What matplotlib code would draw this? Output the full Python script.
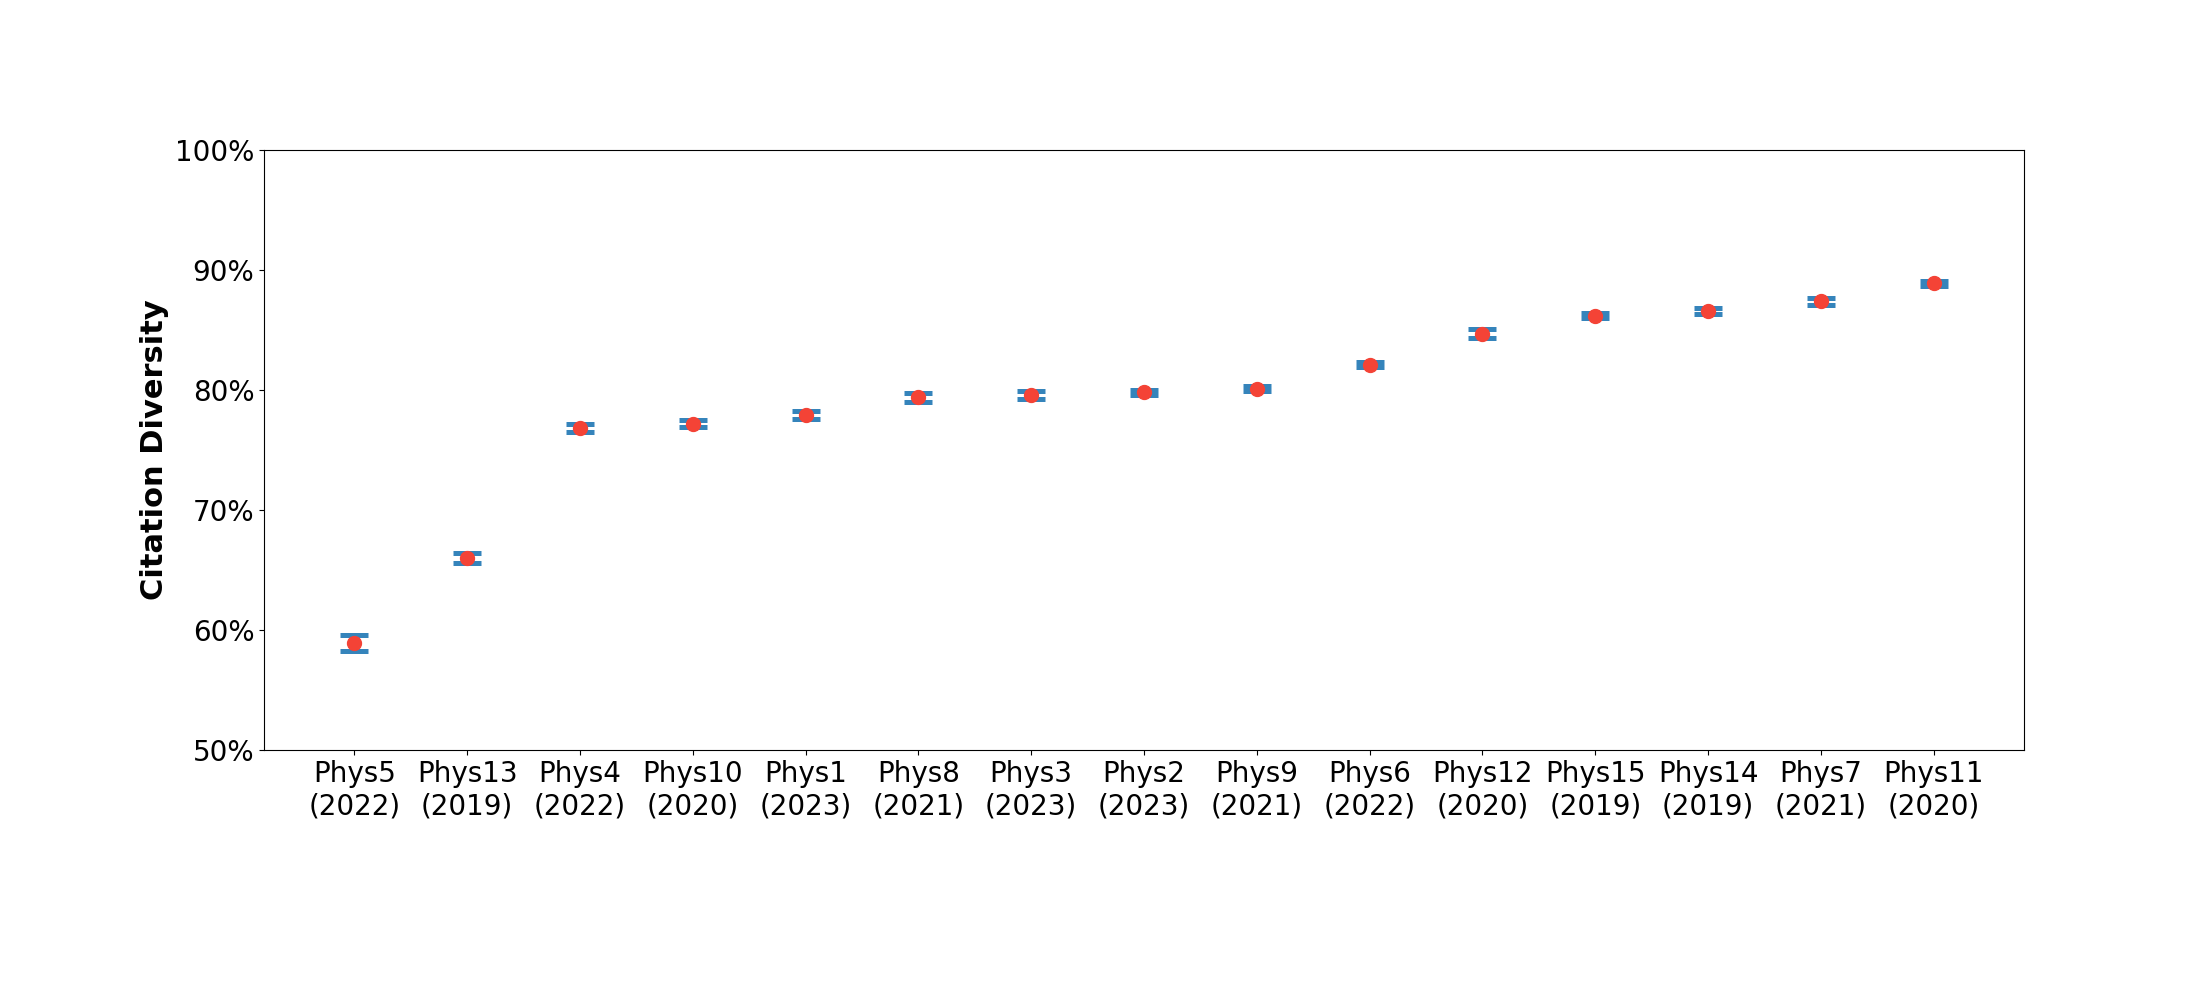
#!/usr/bin/env python3
import matplotlib
matplotlib.use("Agg")
import matplotlib.pyplot as plt
from matplotlib.ticker import PercentFormatter

# Citation diversity per author
labels = ["Phys5\n(2022)", "Phys13\n(2019)", "Phys4\n(2022)", "Phys10\n(2020)",
          "Phys1\n(2023)", "Phys8\n(2021)", "Phys3\n(2023)", "Phys2\n(2023)",
          "Phys9\n(2021)", "Phys6\n(2022)", "Phys12\n(2020)", "Phys15\n(2019)",
          "Phys14\n(2019)", "Phys7\n(2021)", "Phys11\n(2020)"]
diversity = [58.9, 66.0, 76.8, 77.2, 77.9, 79.4, 79.6, 79.8, 80.1,
             82.1, 84.7, 86.2, 86.6, 87.4, 88.9]
errors = [0.66, 0.44, 0.33, 0.30, 0.33, 0.39, 0.35, 0.20, 0.20,
          0.20, 0.35, 0.24, 0.24, 0.29, 0.20]


def main():
    fig, ax = plt.subplots(figsize=(22, 10), dpi=100)
    fig.subplots_adjust(left=0.12, right=0.92, bottom=0.25, top=0.85)

    x = list(range(len(labels)))
    ax.errorbar(x, diversity, yerr=errors, fmt="none", ecolor="#1f77b4",
                elinewidth=0, capsize=10.3, capthick=3.6, alpha=0.9)
    ax.plot(x, diversity, "o", color="#f44336", markersize=10, zorder=3)

    ax.set_xlim(-0.8, len(labels) - 0.2)
    ax.set_ylim(50, 100)
    ax.yaxis.set_major_formatter(PercentFormatter(decimals=0))
    ax.set_xticks(x)
    ax.set_xticklabels(labels)
    ax.tick_params(axis="both", labelsize=20)
    ax.set_ylabel("Citation Diversity", fontsize=22, fontweight="bold")

    fig.savefig("out.png", dpi=100)
    plt.close(fig)


if __name__ == "__main__":
    main()
